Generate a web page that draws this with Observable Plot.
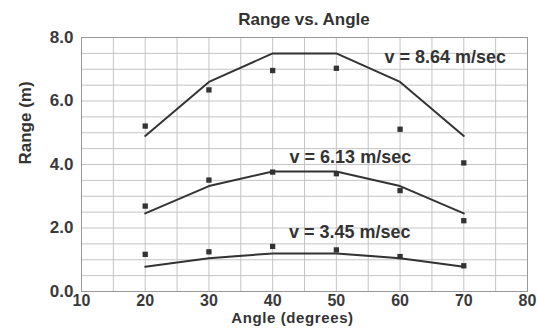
<!DOCTYPE html>
<html>
<head>
<meta charset="utf-8">
<script src="https://cdn.jsdelivr.net/npm/d3@7"></script>
<script src="https://cdn.jsdelivr.net/npm/@observablehq/plot@0.6"></script>
<style>
  body { margin: 0; background: #fff; font-family: "Liberation Sans", Arial, sans-serif; }
  #wrap { position: relative; width: 537px; height: 330px; }
  #title { position: absolute; left: 81px; width: 446px; top: 11px; text-align: center;
           font-weight: bold; font-size: 17px; line-height: 18px; color: #333; z-index: 2; }
  svg { position: absolute; left: 0; top: 0; }
  .xlabel text { letter-spacing: 0.6px; }
</style>
</head>
<body>
<div id="wrap"><div id="title">Range vs. Angle</div></div>
<script>
const angles = [20, 30, 40, 50, 60, 70];
const speeds = ["v = 8.64 m/sec", "v = 6.13 m/sec", "v = 3.45 m/sec"];
// theoretical range curves (lines)
const theory864 = [4.90, 6.60, 7.50, 7.50, 6.60, 4.90];
const theory613 = [2.46, 3.32, 3.78, 3.78, 3.32, 2.46];
const theory345 = [0.78, 1.05, 1.20, 1.20, 1.05, 0.78];
// measured ranges (markers)
const measured864 = [5.21, 6.35, 6.96, 7.03, 5.11, 4.05];
const measured613 = [2.69, 3.51, 3.76, 3.71, 3.18, 2.23];
const measured345 = [1.17, 1.25, 1.42, 1.31, 1.10, 0.81];
const xTicks = [10, 20, 30, 40, 50, 60, 70, 80];
const yTicks = [0, 2, 4, 6, 8];
const labelAngle = [67.1, 52.2, 52.1];
const labelRange = [7.37, 4.22, 1.86];

const theorySets = [theory864, theory613, theory345];
const measSets = [measured864, measured613, measured345];
const lines = [], points = [];
speeds.forEach((s, i) => {
  angles.forEach((a, j) => {
    lines.push({series: s, angle: a, range: theorySets[i][j]});
    points.push({series: s, angle: a, range: measSets[i][j]});
  });
});
const labels = speeds.map((s, i) => ({text: s, angle: labelAngle[i], range: labelRange[i]}));

const chart = Plot.plot({
  width: 537,
  height: 330,
  marginLeft: 81,
  marginRight: 10,
  marginTop: 37,
  marginBottom: 39,
  style: {fontFamily: "Liberation Sans, Arial, sans-serif", background: "transparent", overflow: "visible"},
  x: {domain: [10, 80], ticks: xTicks, tickFormat: d => d.toString(), label: null},
  y: {domain: [0, 8], ticks: yTicks, tickFormat: d => d.toFixed(1), label: null},
  marks: [
    Plot.gridX(d3.range(15, 80, 5), {stroke: "#c4c4c4", strokeOpacity: 1}),
    Plot.gridY(d3.range(0.5, 8, 0.5), {stroke: "#c4c4c4", strokeOpacity: 1}),
    Plot.frame({stroke: "#999"}),
    Plot.axisX({ticks: xTicks, tickSize: 0, tickPadding: 3, fontSize: 16, fontWeight: "bold", fill: "#3a3a3a", label: null}),
    Plot.axisY({ticks: yTicks, tickSize: 0, tickPadding: 8, fontSize: 17, fontWeight: "bold", fill: "#3a3a3a", tickFormat: d => d.toFixed(1), label: null}),
    Plot.line(lines, {x: "angle", y: "range", z: "series", stroke: "#333", strokeWidth: 2}),
    Plot.dot(points, {x: "angle", y: "range", symbol: "square", r: 3, fill: "#333", stroke: "none"}),
    Plot.text(labels, {x: "angle", y: "range", text: "text", fontSize: 18, fontWeight: "bold", fill: "#333", textAnchor: "middle"}),
    Plot.text(["Angle (degrees)"], {className: "xlabel", frameAnchor: "bottom", dx: -12, dy: 31, fontSize: 15, fontWeight: "bold", fill: "#333"}),
    Plot.text(["Range (m)"], {frameAnchor: "left", dx: -56, rotate: -90, fontSize: 17, fontWeight: "bold", fill: "#333"})
  ]
});
document.getElementById("wrap").appendChild(chart);
</script>
</body>
</html>
